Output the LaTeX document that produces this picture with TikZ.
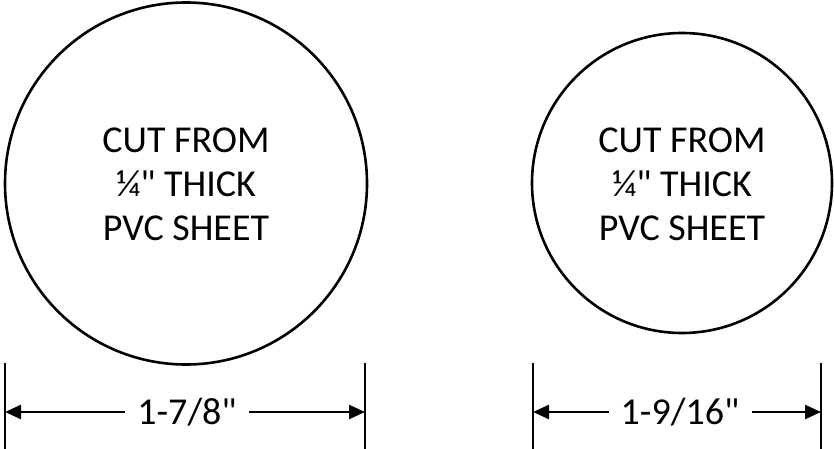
\documentclass[tikz,border=0pt]{standalone}
\usepackage{fontspec}
\newfontfamily\calib{Carlito}
\usepackage{tikz}
\usetikzlibrary{arrows.meta,positioning,calc}

\tikzset{
  disc/.style={circle,draw,line width=2.6pt,inner sep=0pt},
  disclabel/.style={align=center,font=\calib\fontsize{38}{44}\selectfont},
  dimlabel/.style={font=\calib\fontsize{38}{44}\selectfont,inner sep=12pt},
  ext/.style={line width=2.4pt},
  dimline/.style={line width=2.4pt,-{Triangle[length=16pt,width=14pt]}}
}

\begin{document}
\begin{tikzpicture}[x=1pt,y=-1pt]
  \useasboundingbox (0,0) rectangle (834,449);

  % large disc
  \node[disc,minimum size=362pt] (big) at (186,183.5) {};
  \node[disclabel] (bigtxt) at (186,184) {CUT FROM\\¼" THICK\\PVC SHEET};

  % small disc
  \node[disc,minimum size=300pt] (small) at (682,183) {};
  \node[disclabel] (smalltxt) at (682,184) {CUT FROM\\¼" THICK\\PVC SHEET};

  % dimension 1-7/8
  \coordinate (bigL) at (5,412);
  \coordinate (bigR) at (365,412);
  \draw[ext] (5,363) -- (5,449);
  \draw[ext] (365,363) -- (365,449);
  \node[dimlabel] (bigdim) at (187,412) {1-7/8"};
  \draw[dimline] (bigdim.west) -- (bigL);
  \draw[dimline] (bigdim.east) -- (bigR);

  % dimension 1-9/16
  \coordinate (smallL) at (533,412);
  \coordinate (smallR) at (821,412);
  \draw[ext] (533,363) -- (533,449);
  \draw[ext] (821,363) -- (821,449);
  \node[dimlabel] (smalldim) at (680,412) {1-9/16"};
  \draw[dimline] (smalldim.west) -- (smallL);
  \draw[dimline] (smalldim.east) -- (smallR);

\end{tikzpicture}
\end{document}
